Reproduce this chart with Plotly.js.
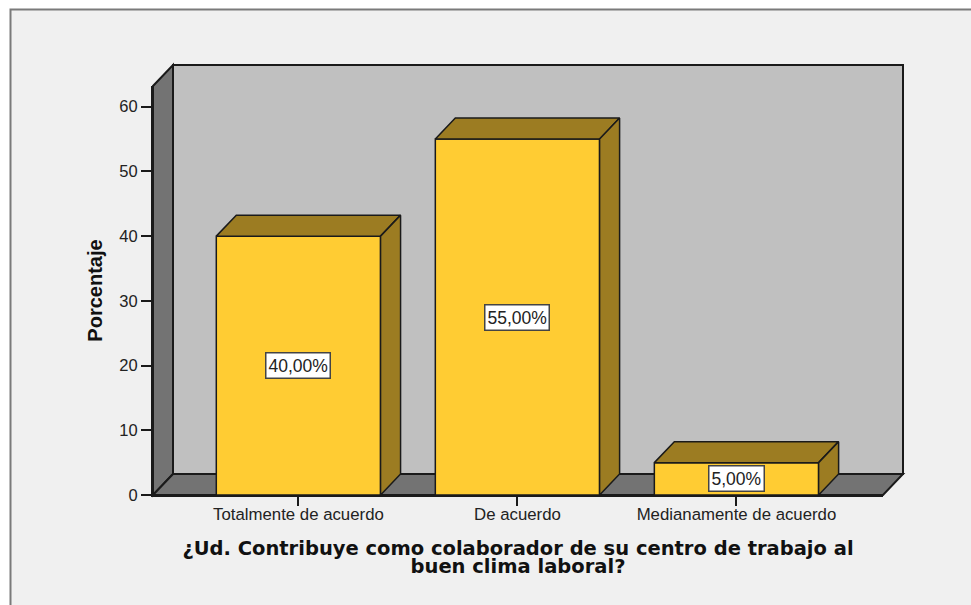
<!DOCTYPE html>
<html>
<head>
<meta charset="utf-8">
<script src="https://cdn.plot.ly/plotly-3.0.1.min.js"></script>
<style>html,body{margin:0;padding:0;background:#fff;overflow:hidden}</style>
</head>
<body>
<div id="chart" style="width:971px;height:605px"></div>
<script>
const categories = ['Totalmente de acuerdo', 'De acuerdo', 'Medianamente de acuerdo'];
const percentages = [40, 55, 5];
const valueLabels = ['40,00%', '55,00%', '5,00%'];
const yTicks = [0, 10, 20, 30, 40, 50, 60];

const W = 971, H = 605, L = 153, R = 883, T = 86, B = 495;
const depthPxX = 20, depthPxY = 21;
const xRange = [-0.664, 2.669], yRange = [0, 63.2];
const barWidth = 0.75;
const dx = depthPxX * (xRange[1] - xRange[0]) / (R - L);
const dy = depthPxY * (yRange[1] - yRange[0]) / (B - T);
const positions = categories.map((_, i) => i);
const ink = '#1a1a1a', shade = '#9c7c22', gold = '#ffcc33';

const px = x => (x - L) / (R - L);
const py = y => (B - y) / (B - T);
const poly = pts => 'M' + pts.map(p => px(p[0]) + ' ' + py(p[1])).join(' L') + ' Z';
const panel = (pts, fill, color, width) => ({
  type: 'path', xref: 'paper', yref: 'paper', layer: 'below', path: poly(pts),
  fillcolor: fill, line: {color: color || ink, width: width || 2}
});

const shapes = [
  panel([[10.5, 9.5], [W + 8, 9.5], [W + 8, H + 8], [10.5, H + 8]], '#f0f0f0', '#7a7a7a', 2),
  panel([[L + depthPxX, T - depthPxY], [R + depthPxX, T - depthPxY], [R + depthPxX, B - depthPxY], [L + depthPxX, B - depthPxY]], '#c0c0c0'),
  panel([[L, B], [L + depthPxX, B - depthPxY], [L + depthPxX, T - depthPxY], [L, T]], '#737373'),
  panel([[L, B], [L + depthPxX, B - depthPxY], [R + depthPxX, B - depthPxY], [R, B]], '#737373')
];

const face = (xs, ys) => ({
  type: 'scatter', mode: 'lines', x: xs, y: ys, fill: 'toself', fillcolor: shade,
  line: {color: ink, width: 1.5}, cliponaxis: false, hoverinfo: 'skip', showlegend: false
});
const traces = [{
  type: 'bar', x: positions, y: percentages, width: barWidth,
  marker: {color: gold, line: {color: ink, width: 1.5}}, showlegend: false, hoverinfo: 'x+y'
}];
positions.forEach((p, i) => {
  const a = p - barWidth / 2, b = p + barWidth / 2, v = percentages[i];
  traces.push(face([a, a + dx, b + dx, b, a], [v, v + dy, v + dy, v, v]));
  traces.push(face([b, b + dx, b + dx, b, b], [0, dy, v + dy, v, 0]));
});

const layout = {
  width: W, height: H,
  margin: {l: L, r: W - R, t: T, b: H - B},
  paper_bgcolor: '#ffffff', plot_bgcolor: 'rgba(0,0,0,0)',
  font: {family: '"Liberation Sans", Arial, sans-serif', color: '#222'},
  showlegend: false, shapes: shapes,
  xaxis: {
    type: 'linear', range: xRange, tickmode: 'array', tickvals: positions, ticktext: categories,
    ticks: 'outside', ticklen: 9, tickwidth: 1.5, tickcolor: ink, tickangle: 0, ticklabelstandoff: -6,
    tickfont: {size: 16.8, color: '#222'}, showline: true, linecolor: ink, linewidth: 2,
    showgrid: false, zeroline: false,
    title: {text: '¿Ud. Contribuye como colaborador de su centro de trabajo al<br>buen clima laboral?',
      standoff: 18, font: {family: '"DejaVu Sans", sans-serif', size: 19.5, color: '#111', weight: 700}}
  },
  yaxis: {
    range: yRange, tickmode: 'array', tickvals: yTicks,
    ticks: 'outside', ticklen: 10, tickwidth: 1.5, tickcolor: ink,
    tickfont: {size: 16.5, color: '#222'}, showline: true, linecolor: ink, linewidth: 2,
    showgrid: false, zeroline: false,
    title: {text: 'Porcentaje', standoff: 11, font: {size: 20, color: '#111', weight: 700}}
  },
  annotations: positions.map((p, i) => ({
    x: p, y: percentages[i] / 2, xref: 'x', yref: 'y', text: valueLabels[i], showarrow: false,
    bgcolor: '#ffffff', bordercolor: '#444444', borderwidth: 1.5, borderpad: 2,
    font: {size: 17.5, color: '#222'}
  }))
};

Plotly.newPlot('chart', traces, layout, {displayModeBar: false, responsive: false}).then(gd => {
  const second = gd.querySelectorAll('.xtitle tspan.line')[1];
  if (second) second.setAttribute('dy', '18px');
});
</script>
</body>
</html>
